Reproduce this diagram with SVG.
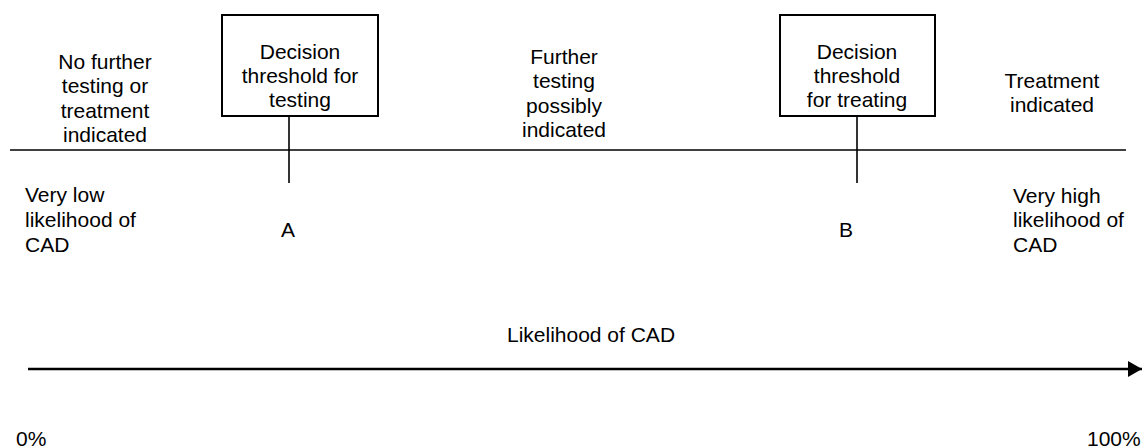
<svg xmlns="http://www.w3.org/2000/svg" width="1143" height="448" viewBox="0 0 1143 448">
<style>
text{font-family:"Liberation Sans",Arial,sans-serif;font-size:21px;fill:#000}
.c{text-anchor:middle}
.ln{stroke:#000;stroke-width:1.6;fill:none}
.box{stroke:#000;stroke-width:2;fill:#fff}
</style>
<defs>
<marker id="ah" markerWidth="14" markerHeight="16" refX="14" refY="8" orient="auto" markerUnits="userSpaceOnUse">
<path d="M0,0 L14,8 L0,16 Z" fill="#000"/>
</marker>
</defs>
<g id="connectors">
<line class="ln" x1="10" y1="150" x2="1126" y2="150"/>
<line class="ln" x1="289" y1="116" x2="289" y2="183"/>
<line class="ln" x1="857" y1="116" x2="857" y2="183"/>
<line x1="28" y1="369" x2="1142" y2="369" stroke="#000" stroke-width="2.5" marker-end="url(#ah)"/>
</g>
<g id="box-testing">
<rect class="box" x="222" y="15" width="156" height="101"/>
<text class="c" x="300" y="59">Decision</text>
<text class="c" x="300" y="83">threshold for</text>
<text class="c" x="300" y="107">testing</text>
</g>
<g id="box-treating">
<rect class="box" x="780" y="15" width="155" height="101"/>
<text class="c" x="857" y="59">Decision</text>
<text class="c" x="857" y="83">threshold</text>
<text class="c" x="857" y="107">for treating</text>
</g>
<g id="no-further">
<text class="c" x="105" y="69">No further</text>
<text class="c" x="105" y="93">testing or</text>
<text class="c" x="105" y="118">treatment</text>
<text class="c" x="105" y="142">indicated</text>
</g>
<g id="further">
<text class="c" x="564" y="64">Further</text>
<text class="c" x="564" y="88">testing</text>
<text class="c" x="564" y="113">possibly</text>
<text class="c" x="564" y="137">indicated</text>
</g>
<g id="treatment">
<text class="c" x="1052" y="88">Treatment</text>
<text class="c" x="1052" y="112">indicated</text>
</g>
<g id="very-low">
<text x="25" y="202">Very low</text>
<text x="25" y="227">likelihood of</text>
<text x="25" y="252">CAD</text>
</g>
<g id="very-high">
<text x="1013" y="203">Very high</text>
<text x="1013" y="227">likelihood of</text>
<text x="1013" y="252">CAD</text>
</g>
<g id="label-a"><text class="c" x="288" y="237">A</text></g>
<g id="label-b"><text class="c" x="846" y="237">B</text></g>
<g id="axis-label"><text class="c" x="591" y="342">Likelihood of CAD</text></g>
<g id="pct-0"><text x="16" y="446">0%</text></g>
<g id="pct-100"><text x="1087" y="446">100%</text></g>
</svg>
